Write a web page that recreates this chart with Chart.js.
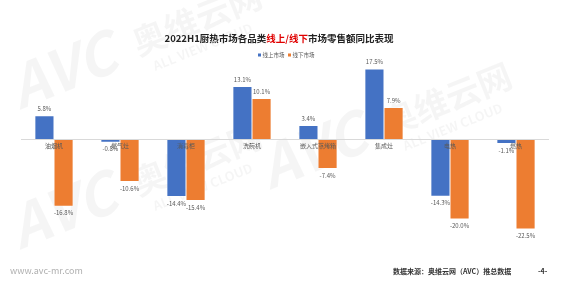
<!DOCTYPE html>
<html>
<head>
<meta charset="utf-8">
<script src="https://cdn.jsdelivr.net/npm/chart.js@4/dist/chart.umd.min.js"></script>
<style>
  html, body { margin: 0; padding: 0; background: #fff; }
  #wrap { width: 562px; height: 293px; position: relative; }
</style>
</head>
<body>
<div id="wrap"><canvas id="chart" width="562" height="293"></canvas></div>
<script>
// datos del grafico
const categorias = ['油烟机', '燃气灶', '消毒柜', '洗碗机', '嵌入式蒸烤箱', '集成灶', '电热', '燃热'];
const seriesNombres = ['线上市场', '线下市场'];
const online = [5.8, -0.8, -14.4, 13.1, 3.4, 17.5, -14.3, -1.1];
const offline = [-16.8, -10.6, -15.4, 10.1, -7.4, 7.9, -20.0, -22.5];
const colores = ['#4472C4', '#ED7D31'];

const FONT = '"Noto Sans CJK SC", "Noto Sans", sans-serif';

// marca de agua, titulo, leyenda y pie
const decoracion = {
    id: 'decoracion',
    beforeDatasetsDraw(chart) {
        const c = chart.ctx;
        c.save();
        c.fillStyle = 'rgba(0,0,0,0.04)';
        const marca = (x, y) => {
            c.save();
            c.translate(x, y);
            c.rotate(-0.38);
            c.font = 'italic bold 58px ' + FONT;
            c.fillText('AVC', 0, 0);
            c.font = 'bold 34px ' + FONT;
            c.fillText('奥维云网', 130, -6);
            c.font = 'bold 13px ' + FONT;
            c.fillText('ALL VIEW CLOUD', 140, 14);
            c.restore();
        };
        marca(20, 110);
        marca(270, 190);
        marca(20, 250);
        c.restore();
    },
    afterDraw(chart) {
        const c = chart.ctx;
        c.save();
        // titulo con parte en rojo
        c.font = 'bold 9.5px ' + FONT;
        c.textBaseline = 'middle';
        const partes = [['2022H1厨热市场各品类', '#222'], ['线上/线下', '#E00000'], ['市场零售额同比表现', '#222']];
        let total = 0;
        partes.forEach(p => total += c.measureText(p[0]).width);
        let x = 279 - total / 2;
        partes.forEach(p => {
            c.fillStyle = p[1];
            c.fillText(p[0], x, 38);
            x += c.measureText(p[0]).width;
        });
        // leyenda
        c.font = '5.5px ' + FONT;
        let lx = 258;
        seriesNombres.forEach((n, i) => {
            c.fillStyle = colores[i];
            c.fillRect(lx, 53.5, 3, 3);
            c.fillStyle = '#595959';
            c.fillText(n, lx + 4.5, 55);
            lx += c.measureText(n).width + 8;
        });
        // pie de pagina
        c.font = '9px ' + FONT;
        c.fillStyle = '#b0b0b0';
        c.fillText('www.avc-mr.com', 10, 271);
        c.font = 'bold 7px ' + FONT;
        c.fillStyle = '#333';
        c.fillText('数据来源：奥维云网（AVC）推总数据', 393, 271);
        c.fillText('-4-', 538, 271);
        c.restore();
    }
};

// etiquetas de categoria y de valores
const etiquetas = {
    id: 'etiquetas',
    afterDatasetsDraw(chart) {
        const c = chart.ctx;
        const x = chart.scales.x, y = chart.scales.y;
        const y0 = y.getPixelForValue(0);
        c.save();
        c.strokeStyle = '#d9d9d9';
        c.lineWidth = 1;
        c.beginPath();
        c.moveTo(chart.chartArea.left, y0 + 0.5);
        c.lineTo(chart.chartArea.right, y0 + 0.5);
        c.stroke();
        c.font = '6px ' + FONT;
        c.fillStyle = '#595959';
        c.textAlign = 'center';
        c.textBaseline = 'middle';
        categorias.forEach((cat, i) => {
            c.fillText(cat, x.getPixelForValue(i), y0 + 7);
        });
        chart.data.datasets.forEach((ds, di) => {
            chart.getDatasetMeta(di).data.forEach((bar, i) => {
                const v = ds.data[i];
                const txt = v.toFixed(1) + '%';
                if (v >= 0) c.fillText(txt, bar.x, bar.y - 7);
                else c.fillText(txt, bar.x, bar.y + 7);
            });
        });
        c.restore();
    }
};

const ctx = document.getElementById('chart').getContext('2d');
const chart = new Chart(ctx, {
    type: 'bar',
    data: {
        labels: categorias,
        datasets: [
            { label: seriesNombres[0], data: online, backgroundColor: colores[0], borderColor: '#ffffff', borderWidth: 0.5 },
            { label: seriesNombres[1], data: offline, backgroundColor: colores[1], borderColor: '#ffffff', borderWidth: 0.5 }
        ]
    },
    options: {
        responsive: false,
        animation: false,
        layout: { padding: { top: 59, bottom: 54, left: 21, right: 13 } },
        datasets: { bar: { categoryPercentage: 0.58, barPercentage: 1 } },
        scales: {
            x: { display: false },
            y: { display: false, min: -25, max: 20 }
        },
        plugins: { legend: { display: false }, title: { display: false }, tooltip: { enabled: false } }
    },
    plugins: [decoracion, etiquetas]
});
</script>
</body>
</html>
